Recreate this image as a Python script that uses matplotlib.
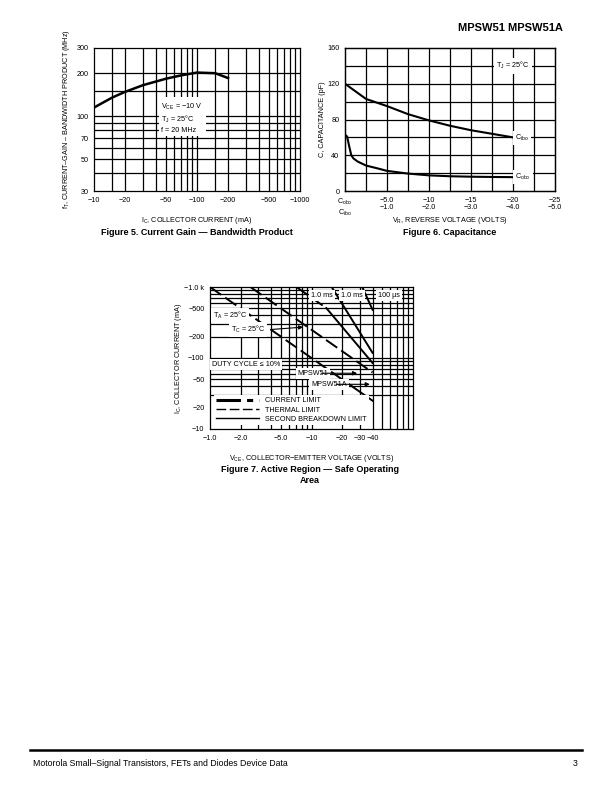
import matplotlib
matplotlib.use('Agg')
import matplotlib.pyplot as plt
import numpy as np

plt.rcParams['font.family'] = ['Liberation Sans', 'DejaVu Sans']
plt.rcParams['mathtext.fontset'] = 'custom'
plt.rcParams['mathtext.rm'] = 'Liberation Sans'
plt.rcParams['mathtext.it'] = 'Liberation Sans'
plt.rcParams['axes.linewidth'] = 0.9

# Figure 5 data: fT vs IC
ic_ma = [10, 15, 20, 30, 50, 70, 100, 150, 200]
ft_mhz = [115, 135, 148, 165, 183, 193, 202, 200, 185]
f5_xticks = [10, 20, 50, 100, 200, 500, 1000]
f5_xlabels = ['−10', '−20', '−50', '−100', '−200', '−500', '−1000']
f5_yticks = [30, 50, 70, 100, 200, 300]
f5_xgrid = [15, 20, 30, 40, 50, 60, 70, 80, 90, 100, 150, 200, 300, 400, 500, 600, 700, 800, 900]
f5_ygrid = [40, 50, 60, 70, 80, 90, 100, 150, 200]

# Figure 6 data: capacitance
vr_obo = [0, -0.25, -0.5, -0.75, -1.0, -1.5, -2.5, -4, -5, -7.5, -10, -12.5, -15, -17.5, -20]
c_obo = [63, 61, 50, 40, 36.5, 33, 28.5, 25, 22.5, 19.5, 17.5, 16.5, 16, 15.7, 15.5]
vr_ibo = [0, -0.5, -1.0, -1.5, -2.0, -2.5, -3.0, -3.5, -4.0]
c_ibo = [120, 103, 95, 86, 79, 73, 68, 64, 60]
f6_xticks = [0, -5, -10, -15, -20, -25]
f6_xlabels = ['C$_{obo}$\nC$_{ibo}$', '−5.0\n−1.0', '−10\n−2.0', '−15\n−3.0', '−20\n−4.0', '−25\n−5.0']
f6_yticks = [0, 40, 80, 120, 160]

# Figure 7 data: safe operating area (VCE in volts, IC in mA)
ta_thermal_v = [1, 25]
ta_thermal_i = [1000, 40]
ta_sb_v = [25, 40]
ta_sb_i = [40, 25]
tc_thermal_v = [2.5, 40]
tc_thermal_i = [1000, 62.5]
s1_thermal_v = [7.1, 14]
s1_thermal_i = [1000, 505]
s1_sb_v = [14, 40]
s1_sb_i = [505, 85]
ms1_v = [15.8, 40]
ms1_i = [1000, 118]
us100_v = [31.6, 40]
us100_i = [1000, 477]
f7_xticks = [1, 2, 5, 10, 20, 30, 40]
f7_xlabels = ['−1.0', '−2.0', '−5.0', '−10', '−20', '−30', '−40']
f7_yticks = [10, 20, 50, 100, 200, 500, 1000]
f7_ylabels = ['−10', '−20', '−50', '−100', '−200', '−500', '−1.0 k']
f7_xgrid = [2, 3, 4, 5, 6, 7, 8, 9, 10, 20, 30, 40, 50, 60, 70, 80, 90]
f7_ygrid = [30, 40, 50, 60, 70, 80, 90, 100, 200, 300, 400, 500, 600, 700, 800, 900]

W, H = 612, 792
fig = plt.figure(figsize=(W / 100, H / 100), dpi=100)


def box(l, t, r, b):
    return [l / W, 1 - b / H, (r - l) / W, (b - t) / H]


fs = 5.2
glw = 0.9

# ---------------- Figure 5 ----------------
ax5 = fig.add_axes(box(94, 48, 300, 191))
ax5.set_xscale('log')
ax5.set_yscale('log')
ax5.set_xlim(10, 1000)
ax5.set_ylim(30, 300)
for g in f5_xgrid:
    ax5.axvline(g, color='black', lw=glw, zorder=1)
for g in f5_ygrid:
    ax5.axhline(g, color='black', lw=glw, zorder=1)
ax5.plot(ic_ma, ft_mhz, color='black', lw=1.8, zorder=3)
ax5.set_xticks(f5_xticks)
ax5.set_xticklabels(f5_xlabels)
ax5.set_yticks(f5_yticks)
ax5.set_yticklabels([str(v) for v in f5_yticks])
ax5.minorticks_off()
ax5.tick_params(length=0, labelsize=fs, pad=4)
ax5.text(45, 98, 'V$_{CE}$ = −10 V\nT$_J$ = 25°C\nf = 20 MHz', fontsize=fs, va='center', ha='left',
         linespacing=1.3, zorder=4, bbox=dict(facecolor='white', edgecolor='none', pad=2))
ax5.set_xlabel('I$_C$, COLLECTOR CURRENT (mA)', fontsize=fs, labelpad=8)
ax5.set_ylabel('f$_T$, CURRENT–GAIN – BANDWIDTH PRODUCT (MHz)', fontsize=fs, labelpad=3)

# ---------------- Figure 6 ----------------
ax6 = fig.add_axes(box(345, 48, 555, 191))
ax6.set_xlim(0, -25)
ax6.set_ylim(0, 160)
for g in np.arange(-2.5, -25, -2.5):
    ax6.axvline(g, color='black', lw=glw, zorder=1)
for g in range(20, 160, 20):
    ax6.axhline(g, color='black', lw=glw, zorder=1)
ax6.plot(vr_obo, c_obo, color='black', lw=1.5, zorder=3)
ax6b = ax6.twiny()
ax6b.set_xlim(0, -5)
ax6b.plot(vr_ibo, c_ibo, color='black', lw=1.5, zorder=3)
ax6b.set_xticks([])
ax6.set_xticks(f6_xticks)
ax6.set_xticklabels(f6_xlabels, linespacing=1.1)
ax6.set_yticks(f6_yticks)
ax6.tick_params(length=0, labelsize=fs, pad=4)
ax6b.text(-4.0, 140, 'T$_J$ = 25°C', fontsize=fs, ha='center', va='center',
          bbox=dict(facecolor='white', edgecolor='none', pad=2))
ax6b.text(-4.05, 59, 'C$_{ibo}$', fontsize=fs, ha='left', va='center',
          bbox=dict(facecolor='white', edgecolor='none', pad=1.5))
ax6b.text(-4.05, 16, 'C$_{obo}$', fontsize=fs, ha='left', va='center',
          bbox=dict(facecolor='white', edgecolor='none', pad=1.5))
ax6.set_xlabel('V$_R$, REVERSE VOLTAGE (VOLTS)', fontsize=fs)
ax6.xaxis.set_label_coords(0.5, -0.17)
ax6.set_ylabel('C, CAPACITANCE (pF)', fontsize=fs, labelpad=1)

# ---------------- Figure 7 ----------------
ax7 = fig.add_axes(box(210, 287, 413, 429))
ax7.set_xscale('log')
ax7.set_yscale('log')
ax7.set_xlim(1, 100)
ax7.set_ylim(10, 1000)
for g in f7_xgrid:
    ax7.axvline(g, color='black', lw=glw, zorder=1)
for g in f7_ygrid:
    ax7.axhline(g, color='black', lw=glw, zorder=1)
dash = (7, 2.5)
for v, i in [(ta_thermal_v, ta_thermal_i), (tc_thermal_v, tc_thermal_i), (s1_thermal_v, s1_thermal_i)]:
    ax7.plot(v, i, color='black', lw=1.4, dashes=dash, zorder=3)
for v, i in [(ta_sb_v, ta_sb_i), (s1_sb_v, s1_sb_i), (ms1_v, ms1_i), (us100_v, us100_i)]:
    ax7.plot(v, i, color='black', lw=1.4, zorder=3)
ax7.set_xticks(f7_xticks)
ax7.set_xticklabels(f7_xlabels)
ax7.set_yticks(f7_yticks)
ax7.set_yticklabels(f7_ylabels)
ax7.minorticks_off()
ax7.tick_params(length=0, labelsize=fs, pad=4)
lbl = dict(facecolor='white', edgecolor='none', pad=1.5)
arr = dict(arrowstyle='-|>', color='black', lw=0.8, mutation_scale=6)
ax7.text(1.07, 393, 'T$_A$ = 25°C', fontsize=fs, va='center', bbox=lbl, zorder=5)
ax7.text(1.6, 250, 'T$_C$ = 25°C', fontsize=fs, va='center', bbox=lbl, zorder=5)
ax7.annotate('', xy=(8.8, 274), xytext=(3.7, 250), arrowprops=arr, zorder=5)
ax7.text(1.05, 81, 'DUTY CYCLE ≤ 10%', fontsize=fs, va='center', bbox=lbl, zorder=5)
ax7.text(9.9, 750, '1.0 ms', fontsize=fs, va='center', bbox=lbl, zorder=5)
ax7.text(19.5, 750, '1.0 ms', fontsize=fs, va='center', bbox=lbl, zorder=5)
ax7.text(45, 750, '100 µs', fontsize=fs, va='center', bbox=lbl, zorder=5)
ax7.text(7.3, 61, 'MPSW51', fontsize=fs, va='center', bbox=lbl, zorder=5)
ax7.annotate('', xy=(30, 61), xytext=(11.8, 61), arrowprops=arr, zorder=5)
ax7.text(10, 42.6, 'MPSW51A', fontsize=fs, va='center', bbox=lbl, zorder=5)
ax7.annotate('', xy=(40, 42.6), xytext=(16.4, 42.6), arrowprops=arr, zorder=5)
h1, = ax7.plot([], [], color='black', lw=2.2, dashes=(8, 2, 2, 2), label='CURRENT LIMIT')
h2, = ax7.plot([], [], color='black', lw=1.0, dashes=(7, 2.5), label='THERMAL LIMIT')
h3, = ax7.plot([], [], color='black', lw=1.0, label='SECOND BREAKDOWN LIMIT')
leg = ax7.legend(handles=[h1, h2, h3], loc='lower left', bbox_to_anchor=(0.0, 0.0), fontsize=fs,
                 frameon=True, fancybox=False, facecolor='white', edgecolor='none', framealpha=1,
                 handlelength=6, borderpad=0.35, labelspacing=0.3, handletextpad=0.7)
leg.set_zorder(6)
ax7.set_xlabel('V$_{CE}$, COLLECTOR−EMITTER VOLTAGE (VOLTS)', fontsize=fs, labelpad=8)
ax7.set_ylabel('I$_C$, COLLECTOR CURRENT (mA)', fontsize=fs, labelpad=0)

# ---------------- page text ----------------
fig.text(563 / W, 1 - 28 / H, 'MPSW51 MPSW51A', fontsize=8, fontweight='bold', ha='right', va='center')
fig.text(197 / W, 1 - 233 / H, 'Figure 5. Current Gain — Bandwidth Product', fontsize=6.5,
         fontweight='bold', ha='center', va='center')
fig.text(450 / W, 1 - 233 / H, 'Figure 6. Capacitance', fontsize=6.5, fontweight='bold', ha='center', va='center')
fig.text(310 / W, 1 - 475 / H, 'Figure 7. Active Region — Safe Operating\nArea', fontsize=6.5,
         fontweight='bold', ha='center', va='center', linespacing=1.2)
fig.add_artist(plt.Line2D([30 / W, 582 / W], [1 - 750 / H, 1 - 750 / H], color='black', lw=1.8))
fig.text(33 / W, 1 - 764 / H, 'Motorola Small–Signal Transistors, FETs and Diodes Device Data', fontsize=6.3,
         ha='left', va='center')
fig.text(578 / W, 1 - 764 / H, '3', fontsize=6.3, ha='right', va='center')

fig.savefig('out.png', dpi=100)
